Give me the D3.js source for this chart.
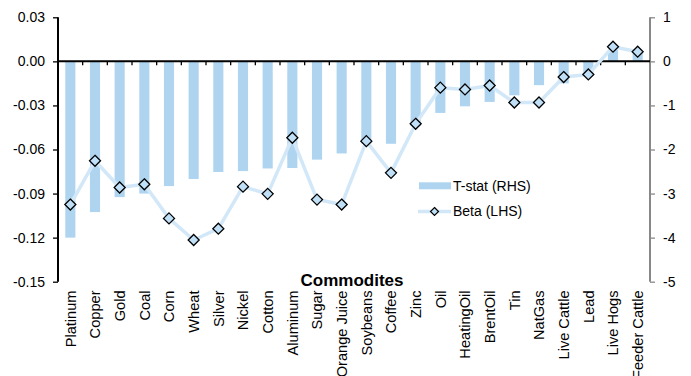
<!DOCTYPE html>
<html>
<head>
<meta charset="utf-8">
<script src="https://cdn.jsdelivr.net/npm/d3@7/dist/d3.min.js"></script>
<style>
  html, body { margin: 0; padding: 0; background: #fff; }
  svg { display: block; font-family: "Liberation Sans", Arial, sans-serif; }
</style>
</head>
<body>
<svg id="chart" width="691" height="376"></svg>
<script>
// Commodity categories along the x axis
const categories = ["Platinum", "Copper", "Gold", "Coal", "Corn", "Wheat", "Silver", "Nickel",
  "Cotton", "Aluminum", "Sugar", "Orange Juice", "Soybeans", "Coffee", "Zinc", "Oil",
  "HeatingOil", "BrentOil", "Tin", "NatGas", "Live Cattle", "Lead", "Live Hogs", "Feeder Cattle"];

// T-statistics (right-hand axis)
const tStat = [-4.00, -3.42, -3.08, -3.00, -2.83, -2.67, -2.51, -2.49, -2.43, -2.42, -2.23, -2.09,
  -1.86, -1.87, -1.47, -1.17, -1.02, -0.92, -0.77, -0.54, -0.50, -0.32, 0.27, 0.23];

// Betas (left-hand axis)
const beta = [-0.0975, -0.0677, -0.0859, -0.0837, -0.1069, -0.1216, -0.1139, -0.0853, -0.0902,
  -0.0520, -0.0941, -0.0975, -0.0543, -0.0759, -0.0425, -0.0179, -0.0191, -0.0164, -0.0280,
  -0.0280, -0.0107, -0.0089, 0.0100, 0.0066];

const leftTicks = [0.03, 0.00, -0.03, -0.06, -0.09, -0.12, -0.15];
const rightTicks = [1, 0, -1, -2, -3, -4, -5];
const axisTitle = "Commodites";
const legendLabels = ["T-stat (RHS)", "Beta (LHS)"];

const barColor = "#afd4f0";
const lineColor = "#d2e8f8";
const markerFill = "#bfe0f7";

const svg = d3.select("#chart");
const plot = { left: 58, right: 650, top: 17.3, bottom: 281.7 };

const x = d3.scaleBand().domain(categories).range([plot.left, plot.right]).padding(0);
const yL = d3.scaleLinear().domain([-0.15, 0.03]).range([plot.bottom, plot.top]);
const yR = d3.scaleLinear().domain([-5, 1]).range([plot.bottom, plot.top]);
const barW = x.bandwidth() * 0.41;
const cx = d => x(d) + x.bandwidth() / 2;

// T-stat bars
svg.append("g").selectAll("rect")
  .data(categories)
  .join("rect")
  .attr("x", (d) => cx(d) - barW / 2)
  .attr("width", barW)
  .attr("y", (d, i) => Math.min(yR(tStat[i]), yR(0)))
  .attr("height", (d, i) => Math.abs(yR(tStat[i]) - yR(0)))
  .attr("fill", barColor);

// Left axis (beta)
const leftAxis = svg.append("g")
  .attr("transform", `translate(${plot.left},0)`)
  .call(d3.axisLeft(yL).tickValues(leftTicks).tickSize(5).tickPadding(8)
    .tickFormat(d3.format(".2f")));
leftAxis.select(".domain").attr("stroke", "#000").attr("stroke-width", 2)
  .attr("d", `M0,${plot.top}V${plot.bottom}`);
leftAxis.selectAll(".tick line").attr("stroke", "#000").attr("stroke-width", 1.3);
leftAxis.selectAll(".tick text").attr("font-size", 14).attr("fill", "#000")
  .text(d => d3.format(".2f")(d).replace("−", "-"));

// Right axis (t-stat)
const rightAxis = svg.append("g")
  .attr("transform", `translate(${plot.right},0)`)
  .call(d3.axisRight(yR).tickValues(rightTicks).tickSize(5).tickPadding(8)
    .tickFormat(d3.format("d")));
rightAxis.select(".domain").attr("stroke", "#888").attr("stroke-width", 2)
  .attr("d", `M0,${plot.top}V${plot.bottom}`);
rightAxis.selectAll(".tick line").attr("stroke", "#888").attr("stroke-width", 1.3);
rightAxis.selectAll(".tick text").attr("font-size", 14).attr("fill", "#000")
  .text(d => String(d));

// Category axis along the zero line, with ticks between categories
const y0 = yL(0);
svg.append("line")
  .attr("x1", plot.left).attr("x2", plot.right)
  .attr("y1", y0).attr("y2", y0)
  .attr("stroke", "#000").attr("stroke-width", 2);
svg.append("g").selectAll("line")
  .data(categories.slice(1))
  .join("line")
  .attr("x1", d => x(d)).attr("x2", d => x(d))
  .attr("y1", y0).attr("y2", y0 + 4)
  .attr("stroke", "#000").attr("stroke-width", 1.3);

// Category labels, rotated
svg.append("g").selectAll("text")
  .data(categories)
  .join("text")
  .attr("transform", d => `translate(${cx(d)},${290.5}) rotate(-90)`)
  .attr("dy", "0.36em")
  .attr("text-anchor", "end")
  .attr("font-size", 14.6)
  .attr("fill", "#000")
  .text(d => d);

// Axis title
svg.append("text")
  .attr("x", (plot.left + plot.right) / 2 - 2)
  .attr("y", 286)
  .attr("text-anchor", "middle")
  .attr("font-size", 17)
  .attr("font-weight", "bold")
  .attr("fill", "#000")
  .text(axisTitle);

// Beta line with diamond markers
const line = d3.line().x((d, i) => cx(categories[i])).y(d => yL(d));
svg.append("path")
  .datum(beta)
  .attr("d", line)
  .attr("fill", "none")
  .attr("stroke", lineColor)
  .attr("stroke-width", 3.5)
  .attr("stroke-linejoin", "round");

const diamond = (s) => `M0,${-s}L${s},0L0,${s}L${-s},0Z`;
svg.append("g").selectAll("path")
  .data(beta)
  .join("path")
  .attr("transform", (d, i) => `translate(${cx(categories[i])},${yL(d)})`)
  .attr("d", diamond(5.5))
  .attr("fill", markerFill)
  .attr("stroke", "#000")
  .attr("stroke-width", 1.3);

// Legend
const lg = svg.append("g");
lg.append("rect").attr("x", 419).attr("y", 182.3).attr("width", 32).attr("height", 7).attr("fill", barColor);
lg.append("text").attr("x", 453).attr("y", 186).attr("dy", "0.35em").attr("font-size", 14)
  .attr("fill", "#000").text(legendLabels[0]);
lg.append("line").attr("x1", 418).attr("x2", 451).attr("y1", 211.5).attr("y2", 211.5)
  .attr("stroke", lineColor).attr("stroke-width", 3.5);
lg.append("path").attr("transform", "translate(434.5,211.5)").attr("d", diamond(4))
  .attr("fill", markerFill).attr("stroke", "#000").attr("stroke-width", 1.2);
lg.append("text").attr("x", 453).attr("y", 211.5).attr("dy", "0.35em").attr("font-size", 14)
  .attr("fill", "#000").text(legendLabels[1]);
</script>
</body>
</html>
